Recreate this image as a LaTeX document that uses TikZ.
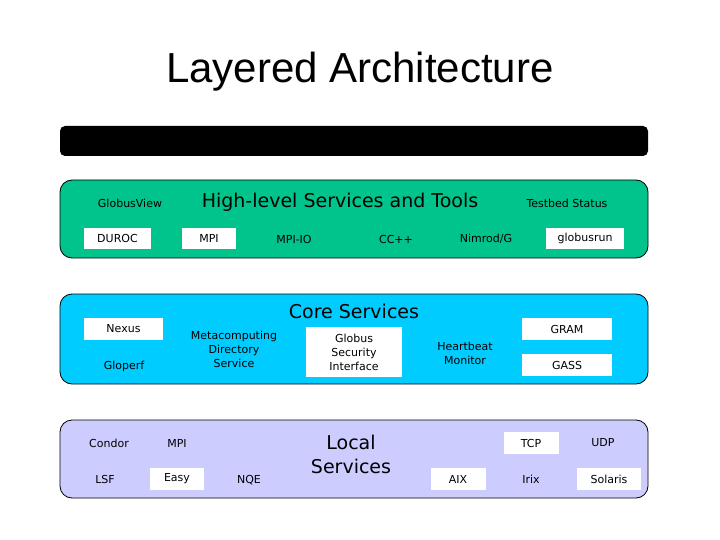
\documentclass[tikz,border=0pt]{standalone}
\usepackage{fontspec}
\setmainfont{DejaVu Sans}
\newfontfamily\titlefont{Liberation Sans}
\definecolor{bandG}{RGB}{0,196,140}
\definecolor{bandC}{RGB}{0,204,255}
\definecolor{bandL}{RGB}{204,204,255}
\begin{document}
\begin{tikzpicture}[x=1pt,y=-1pt,
 band/.style={draw=black,line width=0.8pt,rounded corners=12pt},
 wbox/.style={fill=white,inner sep=0pt,font=\fontsize{11}{13}\selectfont},
 lbl/.style={font=\fontsize{11}{13}\selectfont,align=center},
 big/.style={font=\fontsize{19}{22}\selectfont,align=center}]
\useasboundingbox (0,0) rectangle (720,540);
\node[font=\titlefont\fontsize{42}{46}\selectfont] (title) at (360,72) {Layered Architecture};
\fill[black,rounded corners=5pt] (60,126) rectangle (648,156);
\draw[band,fill=bandG] (60,180) rectangle (648,258);
\draw[band,fill=bandC] (60,294) rectangle (648,384);
\draw[band,fill=bandL] (60,420) rectangle (648,498);
% top
\node[lbl] (gv) at (130,203) {GlobusView};
\node[big] (hl) at (340,202) {High-level Services and Tools};
\node[lbl] (tb) at (567,203) {Testbed Status};
\node[wbox,minimum width=67,minimum height=21] (duroc) at (117.5,238.5) {DUROC};
\node[wbox,minimum width=54,minimum height=21] (mpi1) at (209,238.5) {MPI};
\node[lbl] (mpiio) at (294,239) {MPI-IO};
\node[lbl] (cc) at (396,239) {CC++};
\node[lbl] (nim) at (486,239) {Nimrod/G};
\node[wbox,minimum width=78,minimum height=21] (grun) at (585,238.5) {globusrun};
% core
\node[big] (cs) at (354,311) {Core Services};
\node[wbox,minimum width=79,minimum height=22] (nexus) at (123.5,329) {Nexus};
\node[lbl] (glo) at (124,366) {Gloperf};
\node[lbl,font=\fontsize{11}{14}\selectfont] (mds) at (234,349) {Metacomputing\\Directory\\Service};
\node[wbox,minimum width=96,minimum height=50,align=center,font=\fontsize{11}{14}\selectfont] (gsi) at (354,352) {Globus\\Security\\Interface};
\node[lbl,font=\fontsize{11}{14}\selectfont] (hb) at (465,353) {Heartbeat\\Monitor};
\node[wbox,minimum width=90,minimum height=22] (gram) at (567,329) {GRAM};
\node[wbox,minimum width=90,minimum height=22] (gass) at (567,365) {GASS};
% local
\node[lbl] (condor) at (109,443) {Condor};
\node[lbl] (mpi2) at (177,443) {MPI};
\node[big,font=\fontsize{19}{24}\selectfont] (ls) at (351,454) {Local\\Services};
\node[wbox,minimum width=55,minimum height=22] (tcp) at (531,443) {TCP};
\node[lbl] (udp) at (603,443) {UDP};
\node[lbl] (lsf) at (105,479) {LSF};
\node[wbox,minimum width=54,minimum height=22] (easy) at (177,479) {Easy};
\node[lbl] (nqe) at (249,480) {NQE};
\node[wbox,minimum width=55,minimum height=22] (aix) at (458,479) {AIX};
\node[lbl] (irix) at (531,479) {Irix};
\node[wbox,minimum width=64,minimum height=22] (sol) at (609,479) {Solaris};
\end{tikzpicture}
\end{document}
